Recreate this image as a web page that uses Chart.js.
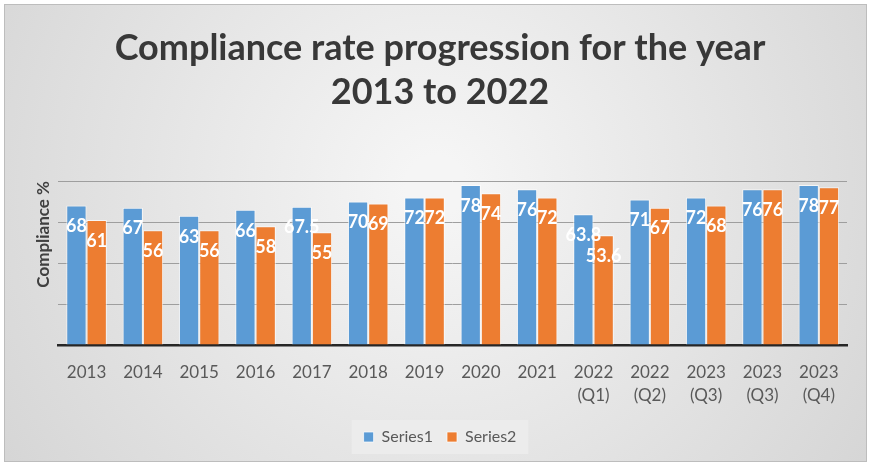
<!DOCTYPE html>
<html>
<head>
<meta charset="utf-8">
<script src="https://cdn.jsdelivr.net/npm/chart.js@4.4.1/dist/chart.umd.min.js"></script>
<style>
  html, body { margin: 0; padding: 0; background: #fff; }
  #wrap { width: 871px; height: 465px; }
</style>
</head>
<body>
<div id="wrap"><canvas id="chart" width="871" height="465"></canvas></div>
<script>
// ---- data ----
const categories = [
  '2013', '2014', '2015', '2016', '2017', '2018', '2019', '2020', '2021',
  ['2022', '(Q1)'], ['2022', '(Q2)'], ['2023', '(Q3)'], ['2023', '(Q3)'], ['2023', '(Q4)']
];
const series1 = [68, 67, 63, 66, 67.5, 70, 72, 78, 76, 63.8, 71, 72, 76, 78];
const series2 = [61, 56, 56, 58, 55, 69, 72, 74, 72, 53.6, 67, 68, 76, 77];
const seriesNames = ['Series1', 'Series2'];
const yTicks = [0, 20, 40, 60, 80];

const FONT = 'Lato, "Open Sans", sans-serif';

// gradient background + legend box
const backdrop = {
  id: 'backdrop',
  beforeDraw(chart) {
    const ctx = chart.ctx;
    const w = chart.width, h = chart.height;
    ctx.save();
    ctx.fillStyle = '#ffffff';
    ctx.fillRect(0, 0, w, h);
    const g = ctx.createRadialGradient(w / 2, h * 0.4, 30, w / 2, h * 0.4, w * 0.6);
    g.addColorStop(0, '#f5f5f5');
    g.addColorStop(1, '#d5d5d5');
    ctx.fillStyle = g;
    ctx.fillRect(4, 4, w - 8, h - 7);
    ctx.strokeStyle = '#bdbdbd';
    ctx.lineWidth = 1;
    ctx.strokeRect(4.5, 4.5, w - 9, h - 8);

    const hb = chart.legend && chart.legend.legendHitBoxes;
    if (hb && hb.length) {
      const l = Math.min(...hb.map(b => b.left)) - 12;
      const r = Math.max(...hb.map(b => b.left + b.width)) + 12;
      const t = Math.min(...hb.map(b => b.top)) - 9;
      const b = Math.max(...hb.map(b => b.top + b.height)) + 9;
      ctx.fillStyle = 'rgba(236,236,236,0.9)';
      ctx.fillRect(l, t, r - l, b - t);
    }
    ctx.restore();
  }
};

// white value labels just under the bar tops
const barLabels = {
  id: 'barLabels',
  afterDatasetsDraw(chart) {
    const ctx = chart.ctx;
    ctx.save();
    ctx.fillStyle = '#ffffff';
    ctx.font = 'bold 18px ' + FONT;
    ctx.textAlign = 'center';
    ctx.textBaseline = 'middle';
    chart.data.datasets.forEach((ds, i) => {
      chart.getDatasetMeta(i).data.forEach((bar, j) => {
        ctx.fillText(String(ds.data[j]), bar.x, bar.y + 21);
      });
    });
    ctx.restore();
  }
};

new Chart(document.getElementById('chart'), {
  type: 'bar',
  data: {
    labels: categories,
    datasets: [
      {
        label: seriesNames[0],
        data: series1,
        backgroundColor: '#5b9bd5',
        borderColor: 'rgba(255,255,255,0.7)',
        borderWidth: 1,
      },
      {
        label: seriesNames[1],
        data: series2,
        backgroundColor: '#ed7d31',
        borderColor: 'rgba(255,255,255,0.7)',
        borderWidth: 1,
      },
    ],
  },
  options: {
    responsive: false,
    animation: false,
    layout: { padding: { left: 33, right: 24, top: 0, bottom: 10 } },
    datasets: { bar: { categoryPercentage: 0.72, barPercentage: 1 } },
    plugins: {
      title: {
        display: true,
        text: ['Compliance rate progression for the year', '2013 to 2022'],
        color: '#383838',
        font: { family: FONT, size: 36, weight: 'bold', lineHeight: '44px' },
        padding: { top: 26, bottom: 67 },
      },
      legend: {
        position: 'bottom',
        labels: {
          color: '#595959',
          font: { family: FONT, size: 16 },
          boxWidth: 10,
          boxHeight: 10,
          padding: 14,
        },
      },
      tooltip: { enabled: false },
    },
    scales: {
      x: {
        grid: { display: false },
        border: { display: true, color: '#262626', width: 2.5 },
        ticks: {
          color: '#595959',
          font: { family: FONT, size: 17, lineHeight: 1.35 },
          padding: 8,
          maxRotation: 0,
          autoSkip: false,
        },
      },
      y: {
        min: yTicks[0],
        max: yTicks[yTicks.length - 1],
        afterBuildTicks(axis) { axis.ticks = yTicks.map(v => ({ value: v })); },
        ticks: { display: false },
        grid: { color: '#9e9e9e', lineWidth: 1, drawTicks: false },
        border: { display: false },
        title: {
          display: true,
          text: 'Compliance %',
          align: 'end',
          color: '#404040',
          font: { family: FONT, size: 17, weight: 'bold' },
          padding: { top: 0, bottom: 5 },
        },
      },
    },
  },
  plugins: [backdrop, barLabels],
});
</script>
</body>
</html>
